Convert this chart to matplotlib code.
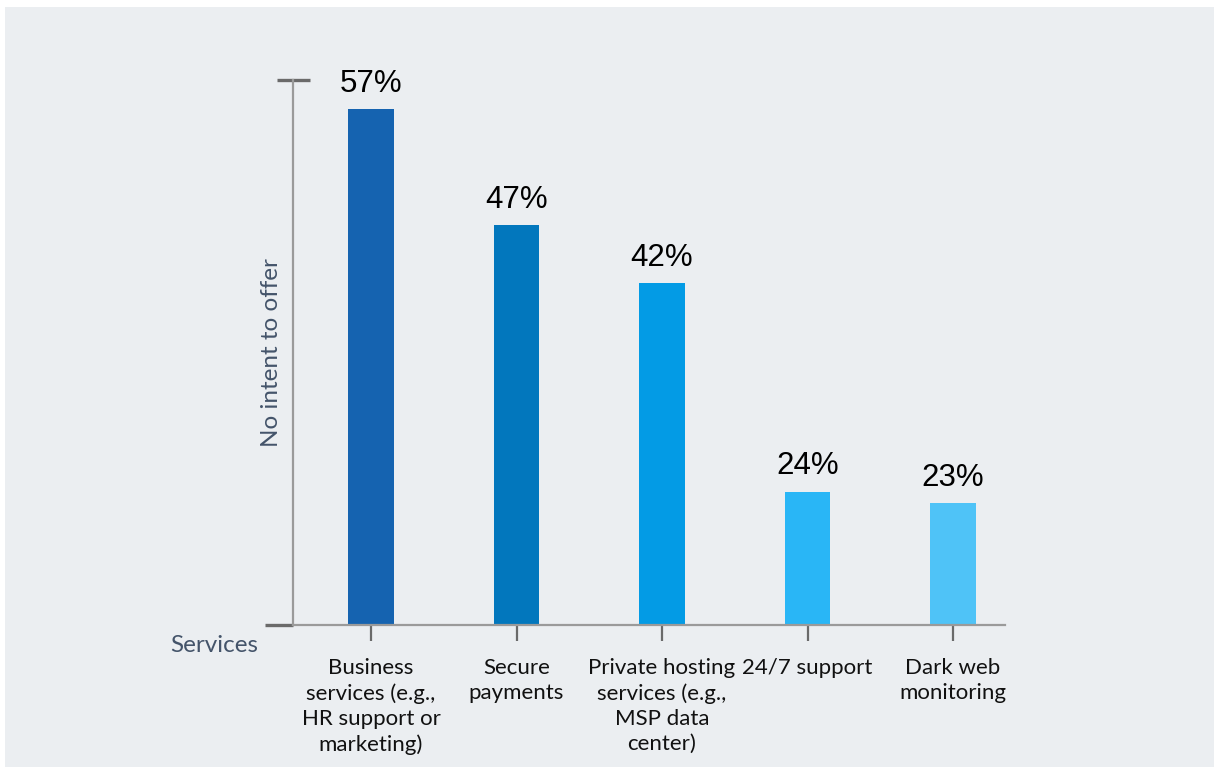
import matplotlib.pyplot as plt
from matplotlib.patches import Rectangle

categories = [
    'Business\nservices (e.g.,\nHR support or\nmarketing)',
    'Secure\npayments',
    'Private hosting\nservices (e.g.,\nMSP data\ncenter)',
    '24/7 support',
    'Dark web\nmonitoring',
]
values = [57, 47, 42, 24, 23]
value_labels = ['57%', '47%', '42%', '24%', '23%']
bar_colors = ['#1563B0', '#0277BD', '#039BE5', '#29B6F6', '#4FC3F7']

W, H = 1214, 767
fig = plt.figure(figsize=(W / 100, H / 100), dpi=100, facecolor='white')

# grey panel behind the chart
fig.patches.append(Rectangle((5 / W, -0.1), 2, 1.1 - 7 / H, transform=fig.transFigure,
                             facecolor='#EBEEF1', edgecolor='none', zorder=-10))

ax = fig.add_axes([293 / W, 1 - 625 / H, (1005 - 293) / W, (625 - 80) / H])
ax.set_facecolor('none')

x = list(range(len(values)))
ax.bar(x, values, width=0.31, color=bar_colors, zorder=2)

ax.set_xlim(-0.536, 4.357)
ax.set_ylim(12.5, 59.5)

for xi, v, lab in zip(x, values, value_labels):
    ax.annotate(lab, (xi, v), xytext=(0, 7.5), textcoords='offset points',
                ha='center', va='bottom', fontsize=22.5, family='Liberation Sans',
                color='black')

for s in ['top', 'right']:
    ax.spines[s].set_visible(False)
ax.spines['left'].set_color('#9A9A9A')
ax.spines['left'].set_linewidth(1.6)
ax.spines['bottom'].set_color('#9A9A9A')
ax.spines['bottom'].set_linewidth(1.6)

ax.set_yticks([])
ax.set_xticks(x)
ax.set_xticklabels(categories, fontsize=16, family='Lato', color='#111111',
                   linespacing=1.33, va='top')
ax.tick_params(axis='x', direction='out', length=11.5, width=1.6, color='#6A6A6A', pad=12)

# end caps on the vertical axis
ax.plot([-16 / 712, 17 / 712], [1, 1], transform=ax.transAxes, color='#6A6A6A',
        lw=2.4, clip_on=False, solid_capstyle='butt')
ax.plot([-28 / 712, 0], [0, 0], transform=ax.transAxes, color='#6A6A6A',
        lw=2.4, clip_on=False, solid_capstyle='butt')

ax.set_ylabel('No intent to offer', fontsize=17.5, family='Lato', color='#44546A', labelpad=8)
ax.text(-35 / 712, -20 / 545, 'Services', transform=ax.transAxes, ha='right', va='center',
        fontsize=17.5, family='Lato', color='#44546A')

fig.savefig('out.png', dpi=100, facecolor=fig.get_facecolor())
